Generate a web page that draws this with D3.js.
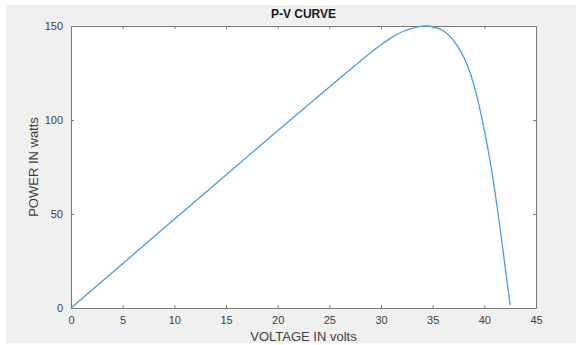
<!DOCTYPE html>
<html>
<head>
<meta charset="utf-8">
<script src="https://cdn.jsdelivr.net/npm/d3@7"></script>
<style>
  body { margin: 0; background: #fff; }
  text { font-family: "Liberation Sans", Arial, sans-serif; fill: #404040; }
</style>
</head>
<body>
<div id="chart"></div>
<script>
// values
const voltage = [0, 5, 10, 15, 20, 25, 28, 30, 31, 32, 33, 34, 34.5, 35, 36, 37, 38, 38.5, 39, 39.5, 40, 40.5, 41, 41.5, 42, 42.5];
const power   = [0, 23.6, 47.2, 70.8, 94.3, 117.6, 131.3, 140, 143.8, 146.8, 148.8, 149.9, 150, 149.6, 147.6, 142.5, 133.5, 127, 118.5, 107.5, 94.5, 80, 63, 43.5, 22.5, 1.5];
const xTicks = [0, 5, 10, 15, 20, 25, 30, 35, 40, 45];
const yTicks = [0, 50, 100, 150];

const data = voltage.map((v, i) => ({ v: v, p: power[i] }));

const W = 576, H = 345;
const margin = { top: 26, right: 40, bottom: 37, left: 71 };
const width = W - margin.left - margin.right;
const height = H - margin.top - margin.bottom;

const svg = d3.select("#chart")
    .append("svg")
    .attr("width", W)
    .attr("height", H);

// figure background
svg.append("rect")
    .attr("x", 6).attr("y", 5)
    .attr("width", W - 6).attr("height", 338)
    .attr("fill", "#f0f0f0");

const g = svg.append("g")
    .attr("transform", `translate(${margin.left},${margin.top})`);

const x = d3.scaleLinear().domain([0, 45]).range([0, width]);
const y = d3.scaleLinear().domain([0, 150]).range([height, 0]);

g.append("rect")
    .attr("width", width)
    .attr("height", height)
    .attr("fill", "#fff");

const axisColor = "#7a7a7a";

function styleAxis(sel) {
    sel.select(".domain").attr("stroke", axisColor).attr("stroke-width", 1);
    sel.selectAll(".tick line").attr("stroke", axisColor);
    sel.selectAll(".tick text").style("font-size", "11px").attr("fill", "#404040");
}

// bottom + top
g.append("g")
    .attr("transform", `translate(0,${height})`)
    .call(d3.axisBottom(x).tickValues(xTicks).tickSizeInner(-3).tickSizeOuter(0).tickPadding(8))
    .call(styleAxis);

g.append("g")
    .call(d3.axisTop(x).tickValues(xTicks).tickSizeInner(-3).tickSizeOuter(0).tickFormat(""))
    .call(styleAxis);

// left + right
g.append("g")
    .call(d3.axisLeft(y).tickValues(yTicks).tickSizeInner(-3).tickSizeOuter(0).tickPadding(8))
    .call(styleAxis);

g.append("g")
    .attr("transform", `translate(${width},0)`)
    .call(d3.axisRight(y).tickValues(yTicks).tickSizeInner(-3).tickSizeOuter(0).tickFormat(""))
    .call(styleAxis);

const line = d3.line()
    .x(d => x(d.v))
    .y(d => y(d.p))
    .curve(d3.curveMonotoneX);

g.append("path")
    .datum(data)
    .attr("fill", "none")
    .attr("stroke", "#4a9ed8")
    .attr("stroke-width", 1.3)
    .attr("d", line);

// title + labels
svg.append("text")
    .attr("x", margin.left + width / 2)
    .attr("y", 18)
    .attr("text-anchor", "middle")
    .style("font-size", "12px")
    .style("font-weight", "bold")
    .style("fill", "#1a1a1a")
    .text("P-V CURVE");

svg.append("text")
    .attr("x", margin.left + width / 2)
    .attr("y", 341)
    .attr("text-anchor", "middle")
    .style("font-size", "13px")
    .text("VOLTAGE IN volts");

svg.append("text")
    .attr("transform", `translate(38,${margin.top + height / 2}) rotate(-90)`)
    .attr("text-anchor", "middle")
    .style("font-size", "13px")
    .text("POWER IN watts");
</script>
</body>
</html>
